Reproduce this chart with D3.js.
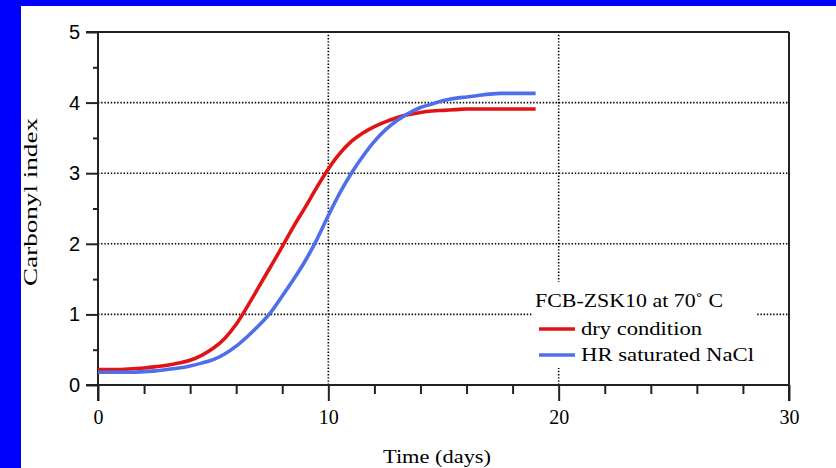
<!DOCTYPE html>
<html><head><meta charset="utf-8">
<script src="https://cdn.jsdelivr.net/npm/d3@7"></script>
<style>html,body{margin:0;padding:0;background:#0000ff;overflow:hidden}</style>
</head><body>
<svg id="c" width="836" height="468"></svg>
<script>
const times = [0,0.5,1,1.5,2,2.5,3,3.5,4,4.5,5,5.5,6,6.5,7,7.5,8,8.5,9,9.5,10,10.5,11,11.5,12,12.5,13,13.5,14,14.5,15,15.5,16,16.5,17,17.5,18,18.5,19];
const dryCondition = [0.22,0.22,0.22,0.23,0.24,0.26,0.28,0.31,0.35,0.42,0.52,0.66,0.86,1.12,1.40,1.68,1.96,2.25,2.52,2.80,3.06,3.28,3.45,3.57,3.66,3.73,3.79,3.83,3.86,3.88,3.89,3.90,3.91,3.91,3.91,3.91,3.91,3.91,3.91];
const hrNaCl = [0.18,0.18,0.18,0.18,0.19,0.20,0.22,0.24,0.27,0.31,0.36,0.44,0.55,0.69,0.85,1.03,1.26,1.50,1.76,2.06,2.40,2.72,3.00,3.24,3.45,3.62,3.75,3.85,3.93,3.98,4.03,4.06,4.08,4.10,4.12,4.13,4.13,4.13,4.13];
const xMajorTicks = [0,10,20,30];
const xMinorTicks = [2,4,6,8,12,14,16,18,22,24,26,28];
const yMajorTicks = [0,1,2,3,4,5];
const yMinorTicks = [0.5,1.5,2.5,3.5,4.5];
const xGrid = [10,20];
const yGrid = [1,2,3,4];
const seriesNames = ["dry condition","HR saturated NaCl"];
const seriesColors = ["#e01414","#4f6fea"];
const legendTitle = "FCB-ZSK10 at 70˚ C";

const svg = d3.select("#c");
svg.append("rect").attr("x",21).attr("y",6).attr("width",815).attr("height",462).attr("fill","#fff");

const x = d3.scaleLinear().domain([0,30]).range([98,789]);
const y = d3.scaleLinear().domain([0,5]).range([385,32]);
const serif = "'Liberation Serif', 'Times New Roman', serif";

// grid
const g = svg.append("g").attr("stroke","#000").attr("stroke-width",1.6).attr("stroke-dasharray","1.4,1.8");
g.selectAll(".gy").data(yGrid).enter().append("line")
  .attr("x1",x(0)).attr("x2",x(30)).attr("y1",d=>y(d)).attr("y2",d=>y(d));
g.selectAll(".gx").data(xGrid).enter().append("line")
  .attr("y1",y(0)).attr("y2",y(5)).attr("x1",d=>x(d)).attr("x2",d=>x(d));

// axes
function styleAxis(sel){
  sel.select(".domain").remove();
  sel.selectAll("line").attr("stroke","#222").attr("stroke-width",2);
}
const ax = svg.append("g").attr("transform",`translate(0,${y(0)})`)
  .call(d3.axisBottom(x).tickValues(xMajorTicks).tickSize(16).tickPadding(9).tickFormat(d3.format("d")));
styleAxis(ax);
ax.selectAll("text").attr("font-family",serif).attr("font-size",20).attr("fill","#000");
const axm = svg.append("g").attr("transform",`translate(0,${y(0)})`)
  .call(d3.axisBottom(x).tickValues(xMinorTicks).tickSize(9).tickFormat(""));
styleAxis(axm);

const ay = svg.append("g").attr("transform",`translate(${x(0)},0)`)
  .call(d3.axisLeft(y).tickValues(yMajorTicks).tickSize(12).tickPadding(6).tickFormat(d3.format("d")));
styleAxis(ay);
ay.selectAll("text").attr("font-family","'Liberation Sans', sans-serif").attr("font-size",20).attr("fill","#000");
const aym = svg.append("g").attr("transform",`translate(${x(0)},0)`)
  .call(d3.axisLeft(y).tickValues(yMinorTicks).tickSize(5).tickFormat(""));
styleAxis(aym);

// frame lines
const fr = svg.append("g").attr("stroke","#222").attr("stroke-width",2);
fr.append("line").attr("x1",x(0)-12).attr("x2",x(30)).attr("y1",y(0)).attr("y2",y(0));
fr.append("line").attr("x1",x(0)-12).attr("x2",x(30)).attr("y1",y(5)).attr("y2",y(5));
fr.append("line").attr("x1",x(0)).attr("x2",x(0)).attr("y1",y(5)).attr("y2",y(0)+16);
fr.append("line").attr("x1",x(30)).attr("x2",x(30)).attr("y1",y(5)).attr("y2",y(0)+16);

// curves
const line = d3.line().x((d,i)=>x(times[i])).y(d=>y(d)).curve(d3.curveMonotoneX);
[dryCondition,hrNaCl].forEach((s,k)=>{
  svg.append("path").datum(s).attr("d",line).attr("fill","none")
    .attr("stroke",seriesColors[k]).attr("stroke-width",3.6).attr("stroke-linejoin","round");
});

// legend
const lg = svg.append("g");
lg.append("rect").attr("x",533).attr("y",282).attr("width",224).attr("height",86).attr("fill","#fff");
lg.append("text").attr("x",535).attr("y",307).attr("font-family",serif).attr("font-size",19)
  .attr("textLength",188).attr("lengthAdjust","spacingAndGlyphs").text(legendTitle);
seriesNames.forEach((n,i)=>{
  const yy = 329 + i*26;
  lg.append("line").attr("x1",539).attr("x2",575).attr("y1",yy).attr("y2",yy)
    .attr("stroke",seriesColors[i]).attr("stroke-width",3.6);
  lg.append("text").attr("x",581).attr("y",yy+6).attr("font-family",serif).attr("font-size",19)
    .attr("textLength", i===0?121:173).attr("lengthAdjust","spacingAndGlyphs").text(n);
});

// axis titles
svg.append("text").attr("x",437).attr("y",463).attr("text-anchor","middle")
  .attr("font-family",serif).attr("font-size",19).attr("textLength",108).attr("lengthAdjust","spacingAndGlyphs").text("Time (days)");
svg.append("text").attr("transform","translate(37,202) rotate(-90)").attr("text-anchor","middle")
  .attr("font-family",serif).attr("font-size",19).attr("textLength",168).attr("lengthAdjust","spacingAndGlyphs").text("Carbonyl index");
</script>
</body></html>
